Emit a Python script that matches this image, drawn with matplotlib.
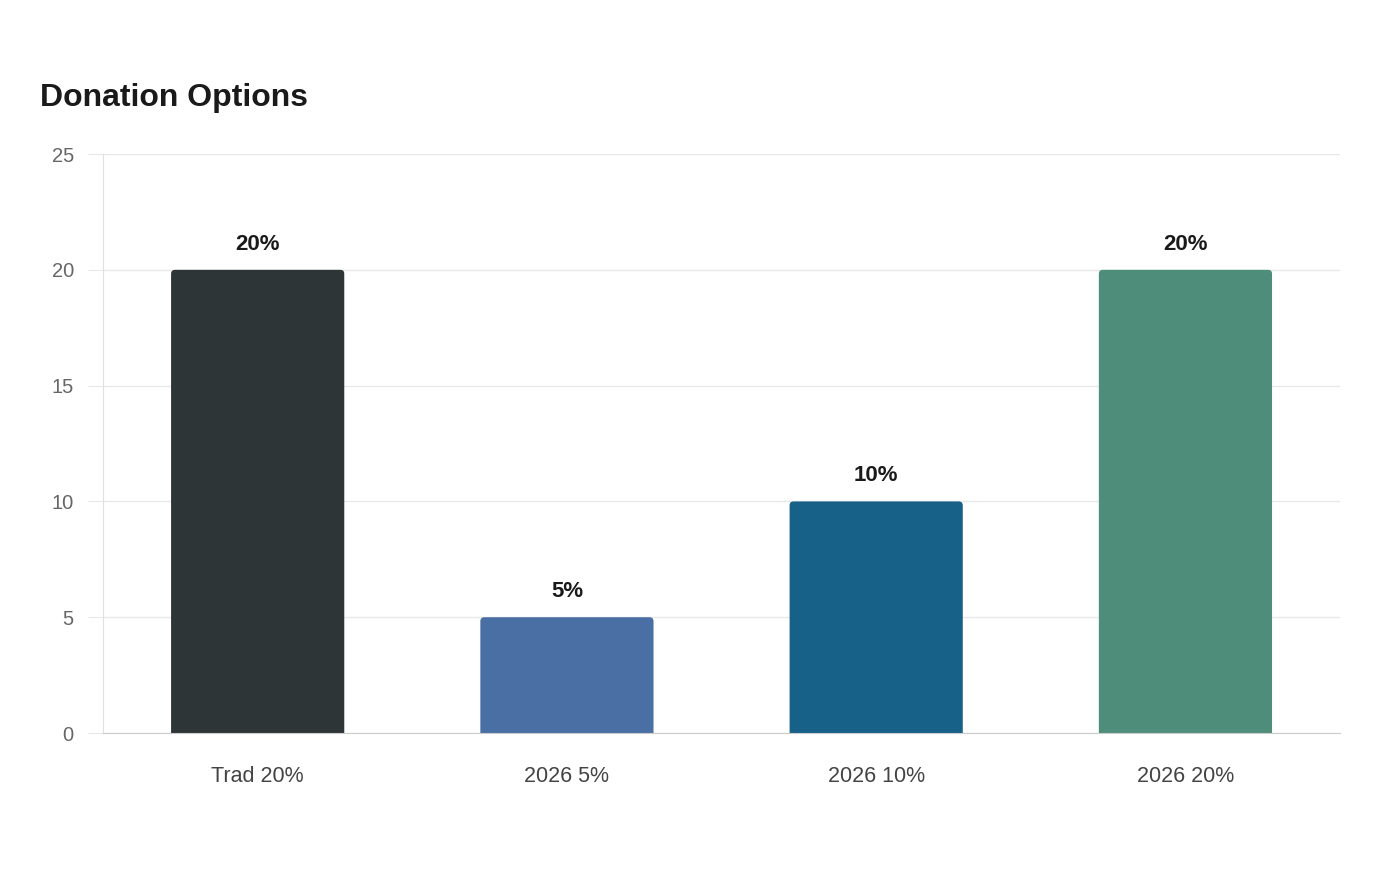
import matplotlib
matplotlib.use("Agg")
import matplotlib.pyplot as plt
from matplotlib.patches import FancyBboxPatch

# data
categories = ["Trad 20%", "2026 5%", "2026 10%", "2026 20%"]
values = [20, 5, 10, 20]
labels = ["20%", "5%", "10%", "20%"]
colors = ["#2d3537", "#4a6fa5", "#176189", "#4f8d7b"]

plt.rcParams['font.family'] = ['Liberation Sans', 'DejaVu Sans']

fig = plt.figure(figsize=(14, 8.8), dpi=100)
ax = fig.add_axes([0.0736, 0.167, 0.8836, 0.658])

ax.set_xlim(-0.5, 3.5)
ax.set_ylim(0, 25)

bar_w = 0.56
# px -> data units for rounded corners
x_per_px = 4.0 / 1237
y_per_px = 25.0 / 579
r = 4 * x_per_px
for i, (v, c) in enumerate(zip(values, colors)):
    patch = FancyBboxPatch((i - bar_w / 2, -0.5), bar_w, v + 0.5,
                           boxstyle=f"round,pad=0,rounding_size={r}",
                           mutation_aspect=y_per_px / x_per_px,
                           facecolor=c, edgecolor="none", zorder=3)
    ax.add_patch(patch)
    ax.annotate(labels[i], (i, v), xytext=(0, 11), textcoords="offset points",
                ha="center", va="bottom", fontsize=16, fontweight="bold",
                color="#1a1a1a")

ax.set_xticks(range(len(categories)))
ax.set_xticklabels(categories, fontsize=15.5, color="#444444")
ax.set_yticks([0, 5, 10, 15, 20, 25])
ax.tick_params(axis="y", labelsize=14.5, labelcolor="#666666", length=11,
               color="#e8e8e8", pad=10)
ax.tick_params(axis="x", length=0, pad=24)

ax.grid(axis="y", color="#e8e8e8", linewidth=1, zorder=0)
ax.set_axisbelow(True)
for s in ["top", "right"]:
    ax.spines[s].set_visible(False)
ax.spines["left"].set_color("#e0e0e0")
ax.spines["bottom"].set_color("#cccccc")
ax.spines["bottom"].set_zorder(4)

fig.text(40 / 1400, 1 - 98 / 880, "Donation Options", fontsize=23,
         fontweight="bold", color="#1a1a1a", ha="left", va="center")

fig.savefig("out.png", dpi=100)
